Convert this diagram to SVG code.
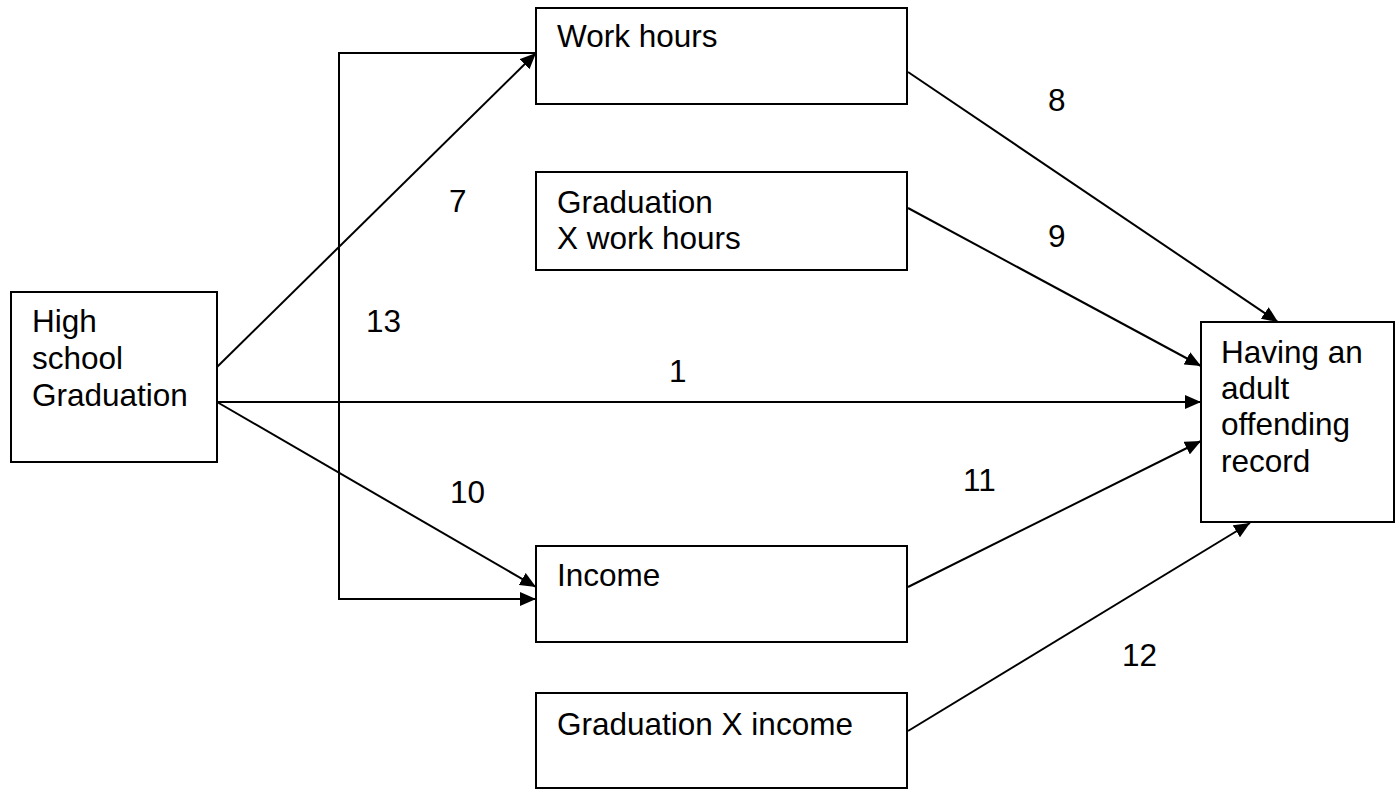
<svg xmlns="http://www.w3.org/2000/svg" width="1395" height="789" viewBox="0 0 1395 789">
  <style>
    .box { fill: #ffffff; stroke: #000000; stroke-width: 2; }
    .lbl { font-family: "Liberation Sans", Arial, sans-serif; font-size: 31.5px; fill: #000000; }
    .edge { fill: none; stroke: #000000; stroke-width: 2; marker-end: url(#arrow); }
  </style>
  <defs>
    <marker id="arrow" viewBox="0 0 16 14" refX="16" refY="7" markerWidth="16" markerHeight="14" markerUnits="userSpaceOnUse" orient="auto">
      <path d="M0,0 L16,7 L0,14 Z" fill="#000000"/>
    </marker>
  </defs>
  <rect width="1395" height="789" fill="#ffffff"/>

  <!-- Nodes -->
  <g id="graduation">
    <rect class="box" x="11" y="292" width="206" height="170"/>
    <text class="lbl" x="32" y="332">High</text>
    <text class="lbl" x="32" y="369">school</text>
    <text class="lbl" x="32" y="406">Graduation</text>
  </g>
  <g id="work-hours">
    <rect class="box" x="536" y="8" width="371" height="96"/>
    <text class="lbl" x="557" y="47">Work hours</text>
  </g>
  <g id="grad-x-work">
    <rect class="box" x="536" y="172" width="371" height="98"/>
    <text class="lbl" x="557" y="213">Graduation</text>
    <text class="lbl" x="557" y="249">X work hours</text>
  </g>
  <g id="income">
    <rect class="box" x="536" y="546" width="371" height="96"/>
    <text class="lbl" x="557" y="586">Income</text>
  </g>
  <g id="grad-x-income">
    <rect class="box" x="536" y="693" width="371" height="95"/>
    <text class="lbl" x="557" y="735">Graduation X income</text>
  </g>
  <g id="offending">
    <rect class="box" x="1201" y="322" width="193" height="200"/>
    <text class="lbl" x="1221" y="363">Having an</text>
    <text class="lbl" x="1221" y="399">adult</text>
    <text class="lbl" x="1221" y="435">offending</text>
    <text class="lbl" x="1221" y="472">record</text>
  </g>

  <!-- Connectors -->
  <g id="connectors">
    <path class="edge" d="M217,367 L536,53"/>
    <path class="edge" d="M536,53 H339 V599 H536"/>
    <path class="edge" d="M217,402 H1201"/>
    <path class="edge" d="M217,402 L536,587"/>
    <path class="edge" d="M908,72 L1278,322"/>
    <path class="edge" d="M908,208 L1201,366"/>
    <path class="edge" d="M908,587 L1201,441"/>
    <path class="edge" d="M908,731 L1250,523"/>
  </g>

  <!-- Path coefficients -->
  <g id="path-labels">
    <text class="lbl" x="449" y="212">7</text>
    <text class="lbl" x="1048" y="111">8</text>
    <text class="lbl" x="1048" y="247">9</text>
    <text class="lbl" x="366" y="332">13</text>
    <text class="lbl" x="669" y="382">1</text>
    <text class="lbl" x="450" y="503">10</text>
    <text class="lbl" x="963" y="491">11</text>
    <text class="lbl" x="1122" y="666">12</text>
  </g>
</svg>
